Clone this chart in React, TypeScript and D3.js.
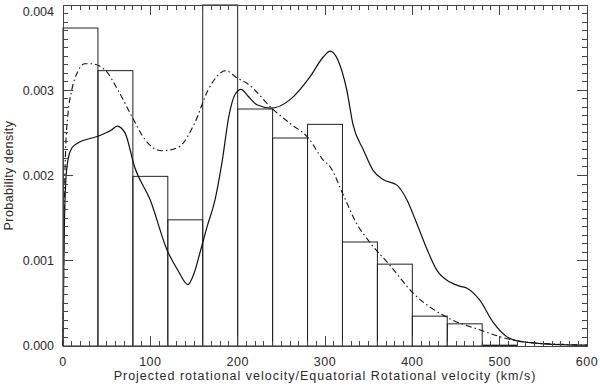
import React from 'react';
import * as d3 from 'd3';

// histogram: bins of 40 km/s starting at 0
const binWidth = 40;
const histDensity = [0.00373, 0.00323, 0.00199, 0.00148, 0.004, 0.00278, 0.00244, 0.0026, 0.00122, 0.00096, 0.00035, 0.00026, 0.00001];

// solid curve (velocity, density)
const solidV = [0, 1, 3, 6, 10, 17, 40, 55, 62, 71, 82, 100, 119, 132, 143, 150, 157, 165, 174, 182, 190, 197, 204, 212, 222, 239, 260, 283, 298, 306, 315, 325, 332, 344, 355, 367, 382, 394, 405, 417, 428, 443, 455, 462, 477, 493, 508, 520, 535, 560, 600];
const solidD = [0, 0.001, 0.0019, 0.0022, 0.00232, 0.00238, 0.00246, 0.00253, 0.00258, 0.0025, 0.0021, 0.00171, 0.00113, 0.00088, 0.00072, 0.00085, 0.0011, 0.0014, 0.00171, 0.00215, 0.0027, 0.00295, 0.00301, 0.00293, 0.00283, 0.00279, 0.00289, 0.00316, 0.00339, 0.00346, 0.00335, 0.003, 0.0026, 0.0023, 0.00206, 0.00195, 0.00189, 0.00171, 0.00144, 0.00113, 0.00089, 0.00075, 0.0007, 0.00068, 0.00054, 0.00027, 0.00011, 0.00006, 0.00004, 0.00002, 0.00001];

// dash-dot curve
const dashV = [0, 1.5, 3, 5.5, 10, 17, 25, 33, 48, 63, 79, 94, 113, 132, 151, 166, 178, 186, 200, 211, 239, 260, 281, 298, 306, 321, 336, 351, 374, 401, 439, 477, 515, 535, 570, 600];
const dashD = [0, 0.0016, 0.0023, 0.0027, 0.003, 0.00322, 0.00331, 0.00331, 0.00324, 0.003, 0.00269, 0.00242, 0.00229, 0.00233, 0.00262, 0.003, 0.00318, 0.00323, 0.00314, 0.00308, 0.00279, 0.00261, 0.00244, 0.00218, 0.0021, 0.00177, 0.00144, 0.00122, 0.00095, 0.00062, 0.00034, 0.00019, 0.00007, 0.00004, 0.00002, 0.00001];

const xTicks = [0, 100, 200, 300, 400, 500, 600];
const yTicks = [0, 0.001, 0.002, 0.003, 0.004];

const W = 600;
const H = 386;
const left = 63, right = 587, top = 5, bottom = 346;
const font = '"Liberation Sans", Arial, sans-serif';

export default function App() {
  const x = d3.scaleLinear().domain([0, 600]).range([left, right]);
  const y = d3.scaleLinear().domain([0, 0.004]).range([bottom, top]);

  const line = d3.line<[number, number]>()
    .x(d => x(d[0]))
    .y(d => y(d[1]))
    .curve(d3.curveMonotoneX);

  const solid = line(solidV.map((v, i) => [v, solidD[i]]));
  const dashed = line(dashV.map((v, i) => [v, dashD[i]]));

  const xMinor = d3.range(0, 601, 10);
  const yMinor = d3.range(0, 0.00401, 0.0001);
  const axisColor = '#444';

  return (
    <svg width={W} height={H} style={{ position: 'absolute', left: 0, top: 0, background: '#fff' }}>
      <rect x={0} y={0} width={W} height={H} fill="#fff" />

      {/* histogram */}
      <g fill="none" stroke="#222" strokeWidth={1}>
        {histDensity.map((d, i) => (
          <rect key={i}
            x={x(i * binWidth)} y={y(d)}
            width={x((i + 1) * binWidth) - x(i * binWidth)}
            height={y(0) - y(d)} />
        ))}
      </g>

      <path d={dashed ?? ''} fill="none" stroke="#111" strokeWidth={1.1} strokeDasharray="6,3,1.5,3" />
      <path d={solid ?? ''} fill="none" stroke="#111" strokeWidth={1.2} />

      {/* frame and ticks */}
      <g stroke={axisColor} strokeWidth={1} shapeRendering="crispEdges">
        <rect x={left} y={top} width={right - left} height={bottom - top} fill="none" />
        {xMinor.map(v => {
          const major = v % 100 === 0;
          const len = major ? 10 : 5;
          return (
            <g key={'x' + v}>
              <line x1={x(v)} x2={x(v)} y1={bottom} y2={bottom - len} />
              <line x1={x(v)} x2={x(v)} y1={top} y2={top + len} />
            </g>
          );
        })}
        {yMinor.map((v, i) => {
          const major = i % 10 === 0;
          const len = major ? 10 : 5;
          return (
            <g key={'y' + i}>
              <line x1={left} x2={left + len} y1={y(v)} y2={y(v)} />
              <line x1={right} x2={right - len} y1={y(v)} y2={y(v)} />
            </g>
          );
        })}
      </g>

      {/* labels */}
      <g fontFamily={font} fontSize={12.5} fill="#2a2a2a">
        {xTicks.map(v => (
          <text key={v} x={x(v)} y={366} textAnchor="middle" letterSpacing={0.5}>{v}</text>
        ))}
        {yTicks.map(v => (
          <text key={v} x={54} y={Math.max(y(v), 12)} dy="0.35em" textAnchor="end">{v.toFixed(3)}</text>
        ))}
        <text x={(left + right) / 2} y={380} textAnchor="middle" letterSpacing={1}>
          Projected rotational velocity/Equatorial Rotational velocity (km/s)
        </text>
        <text transform={`translate(13,${(top + bottom) / 2}) rotate(-90)`} textAnchor="middle" letterSpacing={0.45}>
          Probability density
        </text>
      </g>
    </svg>
  );
}
